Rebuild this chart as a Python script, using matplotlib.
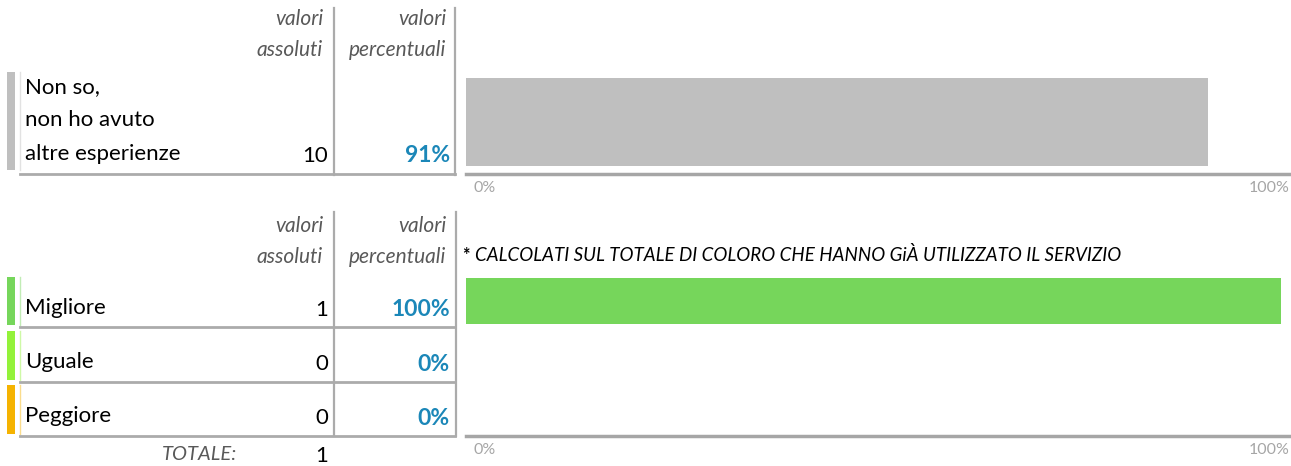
import matplotlib
matplotlib.use("Agg")
import matplotlib.pyplot as plt
from matplotlib.patches import Rectangle
from matplotlib.transforms import ScaledTranslation

plt.rcParams['font.family'] = ['Lato', 'DejaVu Sans']

# Top block: respondents without prior experience
top_label = ["Non so,", "non ho avuto", "altre esperienze"]
top_abs = [10]
top_pct = [91]
top_color = "#BFBFBF"

# Bottom block: comparison with previous experience
categories = ["Migliore", "Uguale", "Peggiore"]
abs_values = [1, 0, 0]
pct_values = [100, 0, 0]
cat_colors = ["#76D65B", "#93F23A", "#F5B301"]
totale = 1

header_abs = ["valori", "assoluti"]
header_pct = ["valori", "percentuali"]
footnote = "CALCOLATI SUL TOTALE DI COLORO CHE HANNO GiÀ UTILIZZATO IL SERVIZIO"
tick_labels = ["0%", "100%"]

W, H = 1291, 466
fig = plt.figure(figsize=(W / 100, H / 100), dpi=100)

# full-figure layer in pixel units for the table part
bg = fig.add_axes([0, 0, 1, 1])
bg.set_xlim(0, W)
bg.set_ylim(H, 0)
bg.axis("off")

GRID = "#ABABAB"
BLUE = "#1B87B8"
HEAD = "#595959"
FS = 16


def headers(y1, y2):
    for y, a, p in [(y1, header_abs[0], header_pct[0]), (y2, header_abs[1], header_pct[1])]:
        bg.text(323, y, a, ha="right", va="center", style="italic",
                fontsize=15, color=HEAD)
        bg.text(446, y, p, ha="right", va="center", style="italic",
                fontsize=15, color=HEAD)


def row_marker(y0, y1, color):
    bg.add_patch(Rectangle((7, y0), 8, y1 - y0, color=color, lw=0))
    bg.plot([20, 20], [y0, y1], color=color, alpha=0.45, lw=1)


# ---- top table
headers(19, 50)
bg.plot([334, 334], [8, 175], color=GRID, lw=1.6)
bg.plot([455, 455], [8, 175], color=GRID, lw=1.6)
row_marker(72, 170, top_color)
bg.plot([20, 455], [174, 174], color=GRID, lw=2)
for y, s in zip([87, 120, 154], top_label):
    bg.text(25, y, s, ha="left", va="center", fontsize=FS)
bg.text(328, 156, str(top_abs[0]), ha="right", va="center", fontsize=FS)
bg.text(450, 156, f"{top_pct[0]}%", ha="right", va="center", fontsize=FS + 0.5,
        fontweight="bold", color=BLUE)

# ---- bottom table
headers(226, 257)
bg.plot([334, 334], [212, 436], color=GRID, lw=1.6)
bg.plot([456, 456], [212, 436], color=GRID, lw=1.6)
bands = [(277, 325), (331, 380), (385, 434)]
lines_y = [327, 382, 436]
for (y0, y1), ly, name, a, p, c in zip(bands, lines_y, categories,
                                        abs_values, pct_values, cat_colors):
    row_marker(y0, y1, c)
    bg.plot([20, 455], [ly, ly], color=GRID, lw=2)
    yc = (y0 + y1) / 2 + 9
    bg.text(25, yc - 2, name, ha="left", va="center", fontsize=FS)
    bg.text(328, yc, str(a), ha="right", va="center", fontsize=FS)
    bg.text(450, yc, f"{p}%", ha="right", va="center", fontsize=FS + 0.5,
            fontweight="bold", color=BLUE)

bg.text(237, 454, "TOTALE:", ha="right", va="center", style="italic",
        fontsize=14.5, color=HEAD)
bg.text(322, 456, str(totale), ha="center", va="center", fontsize=FS)

bg.text(462, 255, "*", ha="left", va="center", fontsize=13, fontweight="bold")
bg.text(475, 255, footnote, ha="left", va="center", style="italic", fontsize=13.5)


def bar_axes(top_px, bottom_px):
    left, bar_end, right = 466, 1281, 1290
    ax = fig.add_axes([left / W, (H - bottom_px) / H,
                       (right - left) / W, (bottom_px - top_px) / H])
    ax.set_xlim(0, 100 * (right - left) / (bar_end - left))
    for side in ["top", "right", "left"]:
        ax.spines[side].set_visible(False)
    ax.spines["bottom"].set_color("#A6A6A6")
    ax.spines["bottom"].set_linewidth(2.5)
    ax.set_yticks([])
    ax.set_xticks([0, 100])
    ax.set_xticklabels(tick_labels, color="#A6A6A6", fontsize=11.5)
    ax.tick_params(axis="x", length=0, pad=5)
    labs = ax.get_xticklabels()
    labs[0].set_ha("left")
    labs[0].set_transform(labs[0].get_transform()
                          + ScaledTranslation(0.07, 0, fig.dpi_scale_trans))
    labs[1].set_ha("right")
    labs[1].set_transform(labs[1].get_transform()
                          + ScaledTranslation(0.09, 0, fig.dpi_scale_trans))
    ax.patch.set_alpha(0)
    return ax


ax1 = bar_axes(70, 174)
ax1.barh([0], top_pct, height=0.85, color=top_color)
ax1.set_ylim(-0.5, 0.5)

ax2 = bar_axes(274, 436)
ax2.barh(range(len(categories)), pct_values, height=0.84, color=cat_colors)
ax2.set_ylim(len(categories) - 0.5, -0.5)

fig.savefig("out.png", dpi=100)
